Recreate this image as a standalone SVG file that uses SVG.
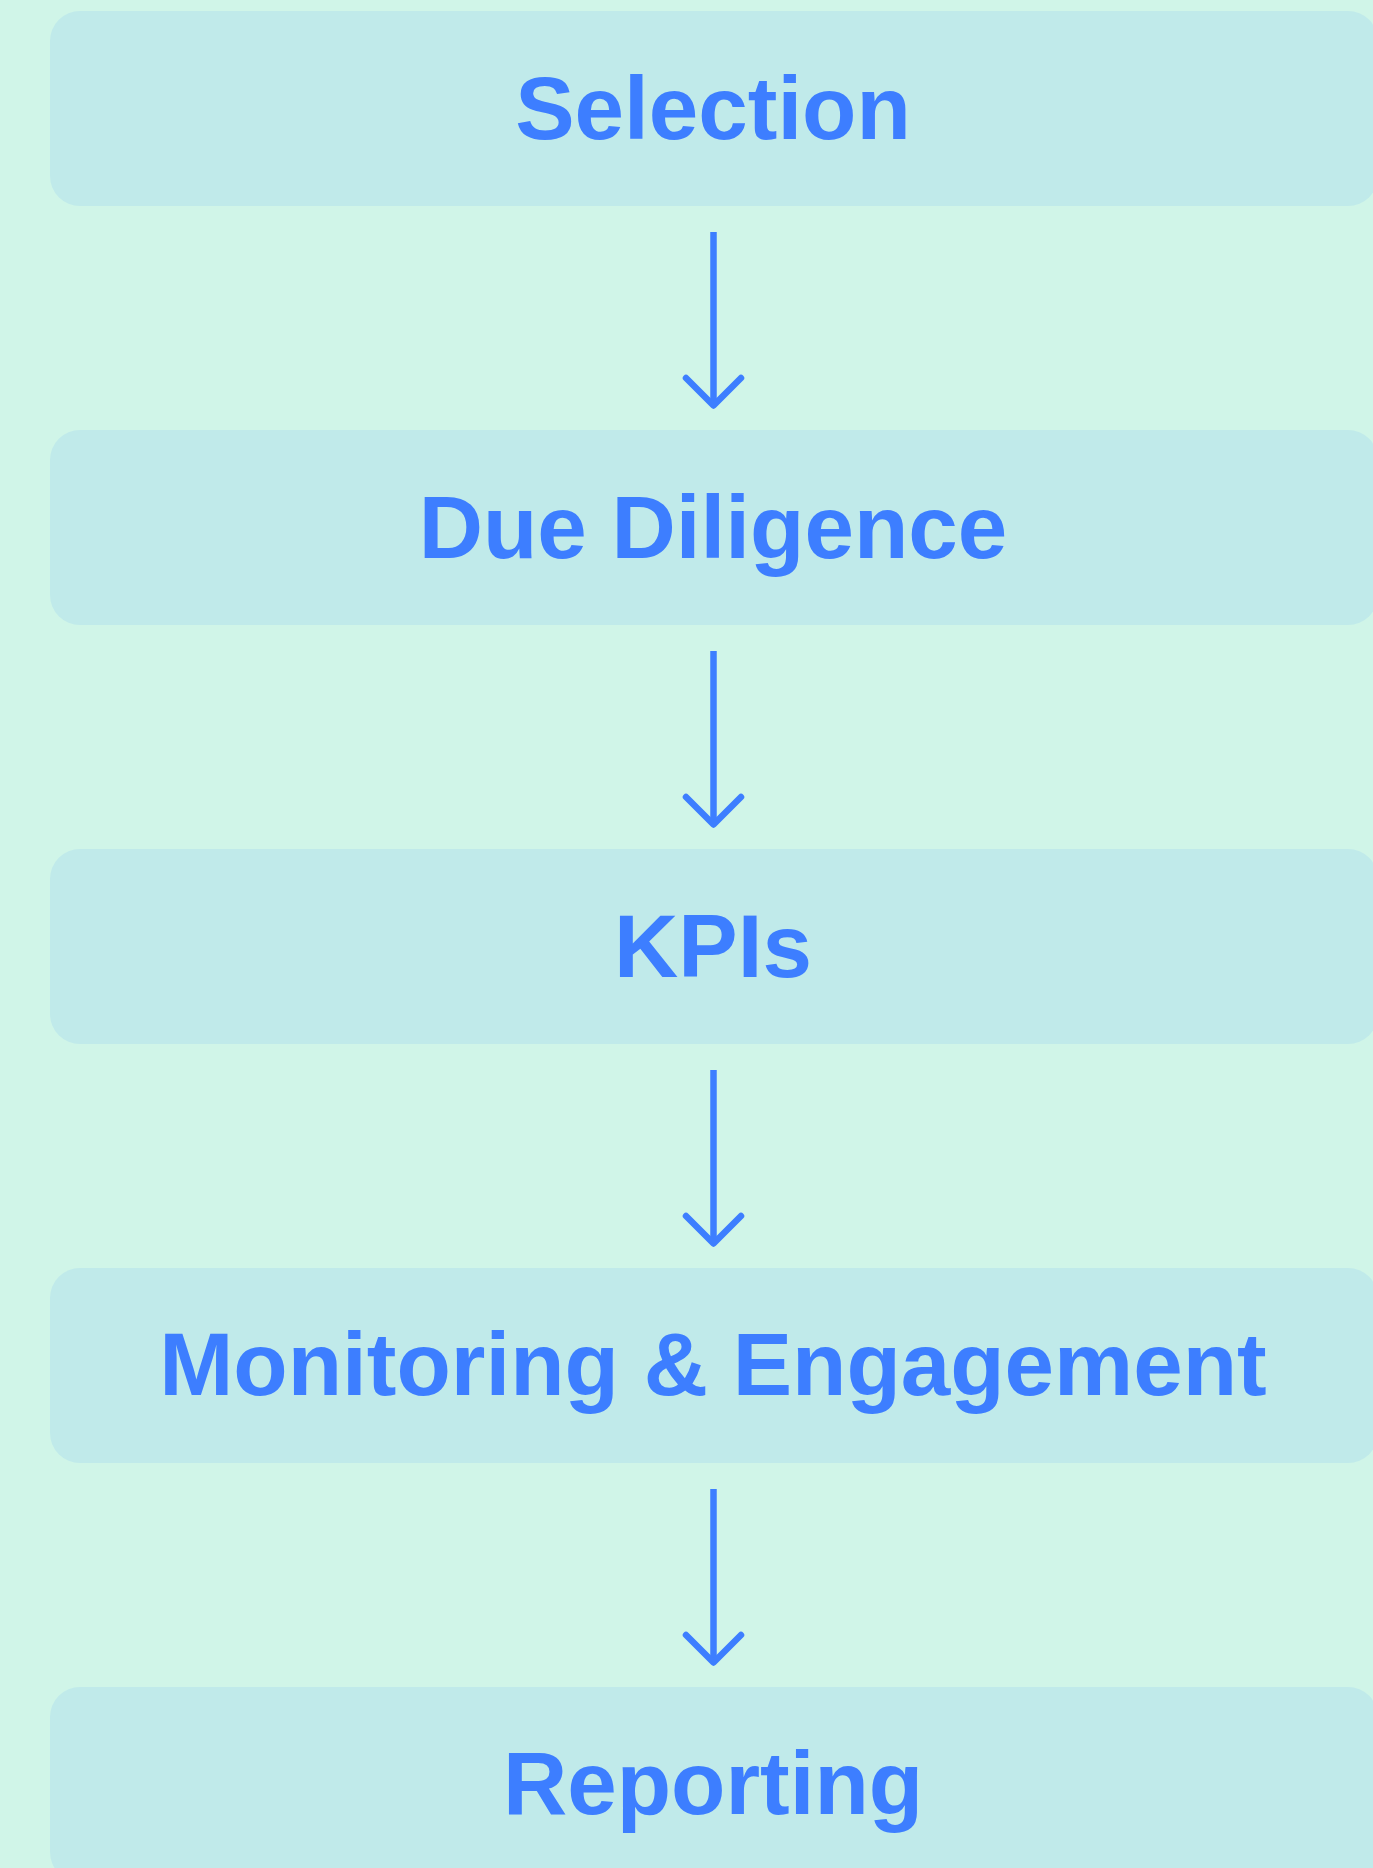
<svg xmlns="http://www.w3.org/2000/svg" width="1373" height="1868" viewBox="0 0 1373 1868">
  <style>
    .box { fill: #C0EAEA; }
    .label { font-family: "Liberation Sans", Arial, sans-serif; font-weight: 700; font-size: 89px; fill: #3D7EFF; text-anchor: middle; }
    .conn { fill: none; stroke: #3D7EFF; stroke-width: 6.5; stroke-linecap: round; stroke-linejoin: round; }
    .shaft { stroke-linecap: butt; }
  </style>
  <rect x="0" y="0" width="1373" height="1868" fill="#D0F5E8"/>

  <g id="node-selection">
    <rect class="box" x="50" y="11" width="1328" height="195" rx="30"/>
    <text class="label" x="713" y="139">Selection</text>
  </g>
  <g id="node-due-diligence">
    <rect class="box" x="50" y="430" width="1328" height="195" rx="30"/>
    <text class="label" x="713" y="558">Due Diligence</text>
  </g>
  <g id="node-kpis">
    <rect class="box" x="50" y="849" width="1328" height="195" rx="30"/>
    <text class="label" x="713" y="977">KPIs</text>
  </g>
  <g id="node-monitoring">
    <rect class="box" x="50" y="1268" width="1328" height="195" rx="30"/>
    <text class="label" x="713" y="1395">Monitoring &amp; Engagement</text>
  </g>
  <g id="node-reporting">
    <rect class="box" x="50" y="1687" width="1328" height="195" rx="30"/>
    <text class="label" x="713" y="1814">Reporting</text>
  </g>

  <g id="connectors">
    <line class="conn shaft" x1="713.5" y1="232" x2="713.5" y2="404"/>
    <polyline class="conn" points="686,378 713.5,405.5 741,378"/>
    <line class="conn shaft" x1="713.5" y1="651" x2="713.5" y2="823"/>
    <polyline class="conn" points="686,797 713.5,824.5 741,797"/>
    <line class="conn shaft" x1="713.5" y1="1070" x2="713.5" y2="1242"/>
    <polyline class="conn" points="686,1216 713.5,1243.5 741,1216"/>
    <line class="conn shaft" x1="713.5" y1="1489" x2="713.5" y2="1661"/>
    <polyline class="conn" points="686,1635 713.5,1662.5 741,1635"/>
  </g>
</svg>
